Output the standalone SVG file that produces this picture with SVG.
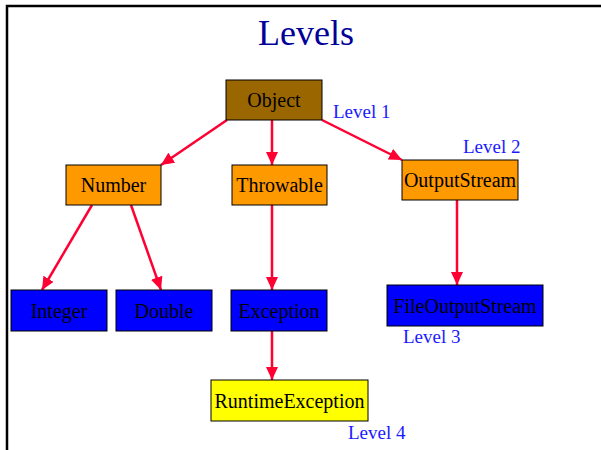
<svg xmlns="http://www.w3.org/2000/svg" width="601" height="450" viewBox="0 0 601 450">
<style>
.box{stroke:#000;stroke-width:1}
.lbl{font-family:"Liberation Serif","Times New Roman",serif;font-size:20px;fill:#000;text-anchor:middle}
.lvl{font-family:"Liberation Serif","Times New Roman",serif;font-size:19px;fill:#1a1aff}
.edge{stroke:#ff0033;stroke-width:2.5;fill:none;marker-end:url(#ah)}
</style>
<defs>
<marker id="ah" markerUnits="userSpaceOnUse" markerWidth="14" markerHeight="12" refX="13" refY="6" orient="auto">
<path d="M0,0 L13,6 L0,12 Z" fill="#ff0033"/>
</marker>
</defs>
<rect width="601" height="450" fill="#fff"/>
<path d="M7,450 V6 H601" stroke="#000" stroke-width="2.5" fill="none"/>
<text x="306" y="45" font-family="'Liberation Serif','Times New Roman',serif" font-size="36" fill="#000099" text-anchor="middle">Levels</text>
<g id="connectors">
<line class="edge" x1="227" y1="120" x2="161" y2="165"/>
<line class="edge" x1="272" y1="120" x2="272" y2="165"/>
<line class="edge" x1="322" y1="120" x2="402" y2="160"/>
<line class="edge" x1="92" y1="205" x2="42" y2="290"/>
<line class="edge" x1="131" y1="205" x2="161" y2="290"/>
<line class="edge" x1="272" y1="205" x2="272" y2="290"/>
<line class="edge" x1="457" y1="200" x2="457" y2="285"/>
<line class="edge" x1="272" y1="331" x2="272" y2="380"/>
</g>
<g id="object"><rect class="box" x="226" y="80" width="96" height="40" fill="#996600"/><text class="lbl" x="274" y="107">Object</text></g>
<g id="number"><rect class="box" x="66" y="165" width="95" height="40" fill="#ff9900"/><text class="lbl" x="113.5" y="192">Number</text></g>
<g id="throwable"><rect class="box" x="232" y="165" width="95" height="40" fill="#ff9900"/><text class="lbl" x="279.5" y="192">Throwable</text></g>
<g id="outputstream"><rect class="box" x="402" y="160" width="116" height="40" fill="#ff9900"/><text class="lbl" x="460" y="187">OutputStream</text></g>
<g id="integer"><rect class="box" x="11" y="290" width="96" height="41" fill="#0000ff"/><text class="lbl" x="59" y="318">Integer</text></g>
<g id="double"><rect class="box" x="116" y="290" width="96" height="41" fill="#0000ff"/><text class="lbl" x="164" y="318">Double</text></g>
<g id="exception"><rect class="box" x="231" y="290" width="96" height="41" fill="#0000ff"/><text class="lbl" x="279" y="318">Exception</text></g>
<g id="fileoutputstream"><rect class="box" x="387" y="285" width="156" height="41" fill="#0000ff"/><text class="lbl" x="465" y="313">FileOutputStream</text></g>
<g id="runtimeexception"><rect class="box" x="211" y="380" width="157" height="41" fill="#ffff00"/><text class="lbl" x="289.5" y="408">RuntimeException</text></g>
<text class="lvl" x="333" y="118">Level 1</text>
<text class="lvl" x="463" y="153">Level 2</text>
<text class="lvl" x="403" y="343">Level 3</text>
<text class="lvl" x="348" y="439">Level 4</text>
</svg>
